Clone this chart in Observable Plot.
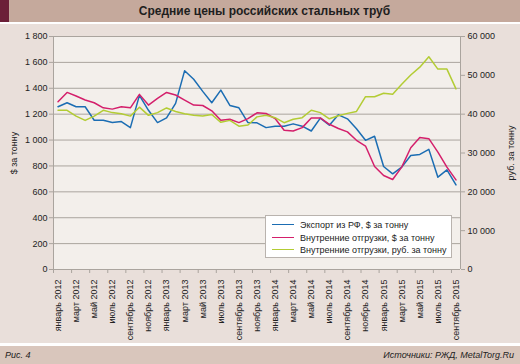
<!DOCTYPE html>
<html><head><meta charset="utf-8">
<script src="https://cdn.jsdelivr.net/npm/d3@7"></script>
<script src="https://cdn.jsdelivr.net/npm/@observablehq/plot@0.6"></script>
<style>
body{margin:0;background:#fff;font-family:"Liberation Sans",Arial,sans-serif;}
#wrap{position:relative;width:520px;height:364px;overflow:hidden;}
#title{position:absolute;left:0;top:0;width:520px;height:22px;background:#c5a99c;}
#title .blk{position:absolute;left:0;top:0;width:9px;height:22px;background:#6c1f38;}
#title .t{position:absolute;left:9px;right:0;top:0;line-height:22px;text-align:center;font-weight:bold;font-size:12px;color:#1e1e1e;}
#chart{position:absolute;left:0;top:24px;width:520px;height:319px;background:#e9dfda;}
#foot{position:absolute;left:0;top:346px;width:520px;height:18px;background:#d9c6bc;font-style:italic;font-size:9px;color:#222;}
#foot .l{position:absolute;left:5px;top:0;line-height:18px;}
#foot .r{position:absolute;right:6px;top:0;line-height:18px;}
#legend{position:absolute;left:265px;top:215px;width:187px;height:43px;background:#fff;border:1px solid #b9b3ae;box-sizing:border-box;font-size:9px;color:#222;}
#legend .row{position:absolute;left:6px;height:12px;line-height:12px;white-space:nowrap;}
#legend .sw{display:inline-block;width:22px;height:0;border-top:1.6px solid;vertical-align:middle;margin-right:6px;position:relative;top:-1px;}
</style></head>
<body>
<div id="wrap">
  <div id="title"><div class="blk"></div><div class="t">Средние цены российских стальных труб</div></div>
  <div id="chart"></div>
  <div id="legend"></div>
  <div id="foot"><span class="l">Рис. 4</span><span class="r">Источники: РЖД, MetalTorg.Ru</span></div>
</div>
<script>
const monthNames = ["январь","февраль","март","апрель","май","июнь","июль","август","сентябрь","октябрь","ноябрь","декабрь"];
const startYear = 2012;
const seriesNames = ["Экспорт из РФ, $ за тонну","Внутренние отгрузки, $ за тонну","Внутренние отгрузки, руб. за тонну"];
const seriesColors = ["#1b6db3","#d41f6b","#b3cc34"];
const exportUsd = [1257,1288,1257,1257,1153,1153,1135,1143,1096,1345,1230,1135,1171,1283,1536,1470,1376,1288,1386,1267,1249,1135,1133,1096,1107,1107,1125,1107,1070,1169,1115,1195,1164,1087,998,1029,796,739,791,881,889,928,713,770,653];
const domesticUsd = [1296,1368,1340,1309,1288,1249,1239,1257,1249,1353,1270,1322,1368,1348,1309,1270,1267,1226,1153,1161,1135,1166,1210,1205,1166,1076,1070,1096,1171,1171,1122,1089,1063,998,954,796,726,695,791,941,1019,1011,907,791,692];
const domesticRub = [41000,41000,39500,38400,39500,41000,40400,40100,39500,41800,39700,40400,41600,40700,40100,39700,39500,39900,37900,38400,36900,37200,39300,39700,39100,37800,38700,39100,41000,40400,38800,39600,40200,40700,44500,44500,45400,45100,47700,50100,52100,54800,51600,51600,46500];
const leftTicks = [0,200,400,600,800,1000,1200,1400,1600,1800];
const rightTicks = [0,10000,20000,30000,40000,50000,60000];
const leftMax = 1800, rightMax = 60000;
const k = rightMax / leftMax;

const fmt = v => Math.round(v).toString().replace(/\B(?=(\d{3})+(?!\d))/g, " ");
const n = exportUsd.length;
const monthLabel = i => monthNames[i % 12] + " " + (startYear + Math.floor(i / 12));

const rows = [];
exportUsd.forEach((v, i) => rows.push({i, v, s: seriesNames[0]}));
domesticUsd.forEach((v, i) => rows.push({i, v, s: seriesNames[1]}));
domesticRub.forEach((v, i) => rows.push({i, v: v / k, s: seriesNames[2]}));

const grid = "#aaa49e";
const chart = Plot.plot({
  width: 520, height: 319,
  marginTop: 12, marginBottom: 74, marginLeft: 53, marginRight: 60,
  style: {background: "transparent", fontSize: "9px", fontFamily: "Liberation Sans, Arial, sans-serif", color: "#222"},
  x: {domain: [-0.5, n - 0.5], axis: null},
  y: {domain: [0, leftMax], axis: null},
  color: {domain: seriesNames, range: seriesColors},
  marks: [
    Plot.frame({fill: "#f3efeb", stroke: null}),
    Plot.gridY(leftTicks, {stroke: grid, strokeOpacity: 1}),
    Plot.ruleX([-0.5, n - 0.5], {stroke: grid}),
    Plot.axisY(leftTicks, {anchor: "left", tickSize: 4, tickPadding: 2, stroke: grid, tickFormat: fmt,
      label: "$ за тонну", labelAnchor: "center", labelOffset: 43, labelArrow: "none"}),
    Plot.axisY(rightTicks.map(r => r / k), {anchor: "right", tickSize: 4, tickPadding: 3, stroke: grid, tickFormat: d => fmt(d * k),
      label: "руб. за тонну", labelAnchor: "center", labelOffset: 53, labelArrow: "none"}),
    Plot.axisX(d3.range(-0.5, n, 2), {anchor: "bottom", tickSize: 4, stroke: grid, tickFormat: () => "", label: null}),
    Plot.axisX(d3.range(0, n, 2), {anchor: "bottom", tickSize: 0, tickPadding: 10, tickRotate: -90, tickFormat: monthLabel, label: null}),
    Plot.line(rows, {x: "i", y: "v", z: "s", stroke: "s", strokeWidth: 1.5})
  ]
});
document.getElementById("chart").appendChild(chart);

const legend = document.getElementById("legend");
seriesNames.forEach((name, j) => {
  const row = document.createElement("div");
  row.className = "row";
  row.style.top = (3 + j * 12.5) + "px";
  row.innerHTML = `<span class="sw" style="border-color:${seriesColors[j]}"></span>${name}`;
  legend.appendChild(row);
});
</script>
</body></html>
